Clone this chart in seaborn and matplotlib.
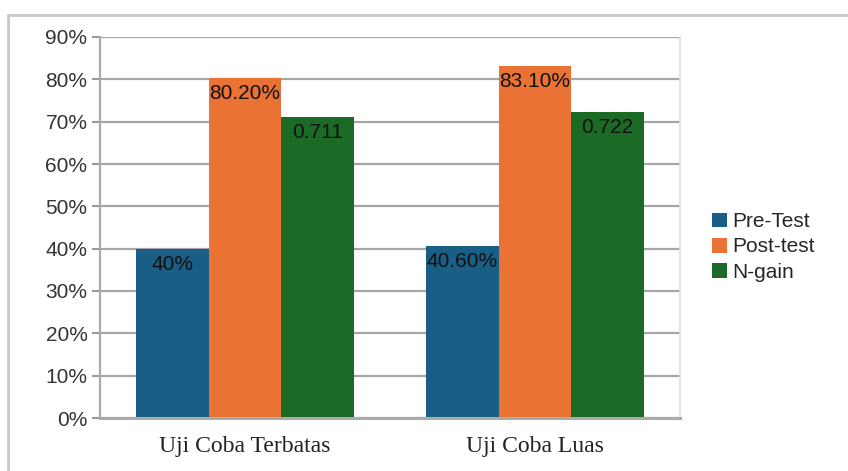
import matplotlib
matplotlib.use("Agg")
import matplotlib.pyplot as plt
from matplotlib.lines import Line2D
from matplotlib.patches import Patch
import seaborn as sns
import pandas as pd

categories = ["Uji Coba Terbatas", "Uji Coba Luas"]
series = ["Pre-Test", "Post-test", "N-gain"]
pre_test = [40.0, 40.6]
post_test = [80.2, 83.1]
n_gain = [0.711, 0.722]
pre_labels = ["40%", "40.60%"]
post_labels = ["80.20%", "83.10%"]
ngain_labels = ["0.711", "0.722"]
y_ticks = [0, 10, 20, 30, 40, 50, 60, 70, 80, 90]
y_tick_labels = [f"{t}%" for t in y_ticks]
colors = ["#185e85", "#e97234", "#1b6a25"]

rows = []
for i, c in enumerate(categories):
    rows.append((c, series[0], pre_test[i]))
    rows.append((c, series[1], post_test[i]))
    rows.append((c, series[2], n_gain[i] * 100))
df = pd.DataFrame(rows, columns=["cat", "series", "value"])

sns.set_style("white")
plt.rcParams["font.family"] = ["Liberation Sans", "DejaVu Sans"]

W, H = 848, 471
fig = plt.figure(figsize=(W / 100, H / 100), dpi=100)
ax = fig.add_axes([100 / W, 1 - 418 / H, 580 / W, 381 / H])

sns.barplot(data=df, x="cat", y="value", hue="series", order=categories,
            hue_order=series, palette=colors, width=0.75, gap=0,
            saturation=1, ax=ax, legend=False, linewidth=0)

ax.set_xlim(-0.5, 1.5)
ax.set_ylim(0, 90)
ax.set_yticks(y_ticks)
ax.set_yticklabels(y_tick_labels, fontsize=15, color="#333333")
ax.set_xlabel("")
ax.set_ylabel("")
ax.set_xticks([0, 1])
ax.set_xticklabels(categories, fontsize=17, family=["Liberation Serif"], color="#222222")
ax.set_xticks([-0.5, 0.5, 1.5], minor=True)
ax.tick_params(axis="x", which="major", length=0, pad=13)
ax.tick_params(axis="x", which="minor", length=6, width=1.5, color="#999999", direction="out")
ax.tick_params(axis="y", length=6, width=1.5, color="#999999", pad=3, left=True)

ax.set_axisbelow(True)
ax.yaxis.grid(True, color="#a6a6a6", linewidth=1.6)
ax.xaxis.grid(False)
ax.spines["top"].set_visible(False)
ax.spines["right"].set_color("#dddddd")
ax.spines["right"].set_linewidth(1.2)
ax.spines["left"].set_color("#aaaaaa")
ax.spines["left"].set_linewidth(1.6)
ax.spines["bottom"].set_color("#aaaaaa")
ax.spines["bottom"].set_linewidth(2.2)

for cont, labs in zip(ax.containers, [pre_labels, post_labels, ngain_labels]):
    ax.bar_label(cont, labels=labs, padding=-18, fontsize=15, color="#111111")

handles = [Patch(facecolor=c, edgecolor="none") for c in colors]
fig.legend(handles, series, loc="center left", bbox_to_anchor=(704 / W, 1 - 247 / H),
           frameon=False, fontsize=15, handlelength=0.7, handleheight=0.7,
           handletextpad=0.25, labelspacing=0.3, borderaxespad=0)

border = "#c8c8c8"
fig.add_artist(Line2D([8 / W, 8 / W], [0, 1 - 15 / H], transform=fig.transFigure,
                      color=border, lw=2))
fig.add_artist(Line2D([8 / W, 1], [1 - 15 / H, 1 - 15 / H], transform=fig.transFigure,
                      color=border, lw=2))

fig.savefig("out.png", dpi=100)
